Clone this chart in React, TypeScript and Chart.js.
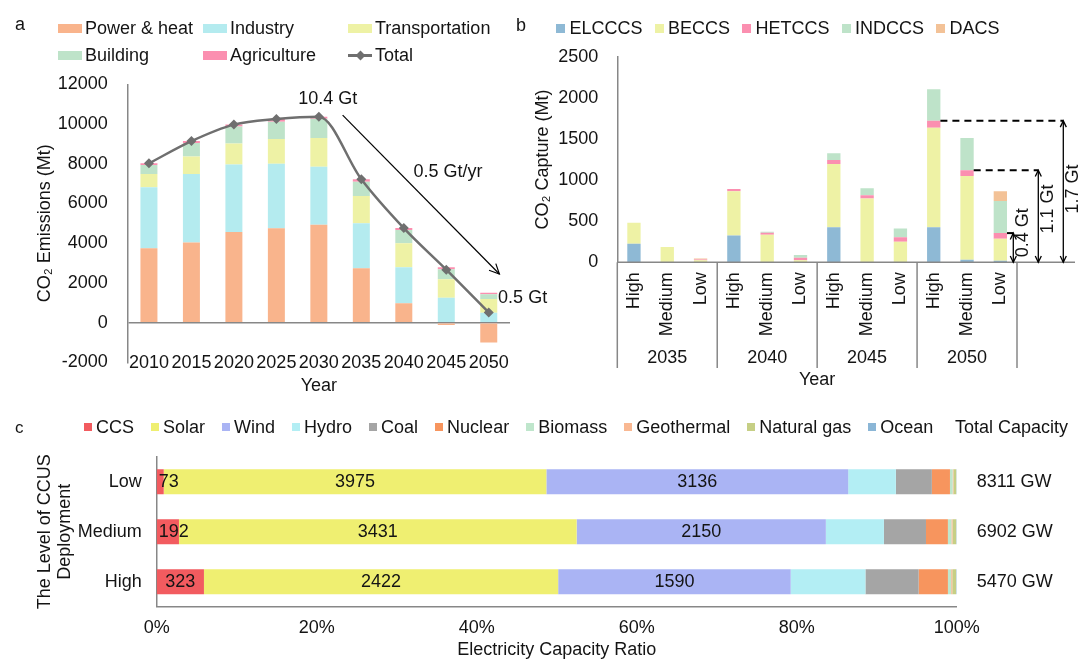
import React, { useEffect, useRef } from 'react';
import { Chart, registerables } from 'chart.js';

Chart.register(...registerables);

const FONT = '"Liberation Sans", Arial, Helvetica, sans-serif';
const TXT = '#141414';
const AXIS = '#878787';

Chart.defaults.font.family = FONT;
Chart.defaults.color = TXT;

// ---------------- Panel a: CO2 emissions (Mt) ----------------
const emissionYears = ['2010', '2015', '2020', '2025', '2030', '2035', '2040', '2045', '2050'];
const powerHeat = [3750, 4030, 4570, 4750, 4930, 2740, 980, -120, -1000];
const industry = [3070, 3460, 3390, 3250, 2920, 2260, 1810, 1260, 500];
const transportation = [670, 870, 1060, 1250, 1450, 1380, 1210, 930, 690];
const building = [450, 680, 850, 870, 970, 720, 670, 500, 240];
const agriculture = [80, 100, 100, 130, 100, 120, 90, 100, 80];
const totalEmissions = [8020, 9140, 9970, 10250, 10370, 7220, 4760, 2670, 510];
const emissionTicks = [-2000, 0, 2000, 4000, 6000, 8000, 10000, 12000];

// ---------------- Panel b: CO2 capture (Mt) ----------------
const captureYears = ['2035', '2040', '2045', '2050'];
const captureLevels = ['High', 'Medium', 'Low'];
const elcccs = [225, 0, 0, 325, 0, 0, 425, 0, 0, 425, 30, 20];
const beccs = [255, 185, 25, 540, 335, 25, 770, 775, 250, 1210, 1020, 265];
const hetccs = [0, 0, 8, 25, 25, 30, 50, 40, 55, 85, 70, 70];
const indccs = [0, 0, 0, 0, 10, 35, 80, 85, 105, 385, 390, 390];
const dacs = [0, 0, 12, 0, 0, 0, 0, 0, 0, 0, 0, 120];
const captureTicks = [0, 500, 1000, 1500, 2000, 2500];
const gapLabels = ['1.7 Gt', '1.1 Gt', '0.4 Gt'];
const gapBars = [9, 10, 11];
const gapLabelValues = [890, 648, 360];

// ---------------- Panel c: electricity capacity (GW) ----------------
const deploymentLevels = ['Low', 'Medium', 'High'];
const sourceNames = ['CCS', 'Solar', 'Wind', 'Hydro', 'Coal', 'Nuclear', 'Biomass', 'Geothermal', 'Natural gas', 'Ocean'];
const ccsGW = [73, 192, 323];
const solarGW = [3975, 3431, 2422];
const windGW = [3136, 2150, 1590];
const hydroGW = [495, 501, 511];
const coalGW = [374, 363, 364];
const nuclearGW = [188, 189, 200];
const biomassGW = [28, 30, 22];
const geothermalGW = [8, 10, 8];
const naturalGasGW = [30, 32, 26];
const oceanGW = [4, 4, 4];
const totalCapacity = [8311, 6902, 5470];
const ratioTicks = [0, 20, 40, 60, 80, 100];

// ---------------- colours ----------------
const C_POWER = '#F9B48C';
const C_IND = '#B4EBEF';
const C_TRANS = '#EEF2A5';
const C_BUILD = '#BEE3C9';
const C_AGRI = '#FB8FB0';
const C_TOTAL = '#6F6F6F';
const C_ELC = '#8EB9D5';
const C_DACS = '#F3C297';
const sourceColors = ['#F25B5F', '#EFEF71', '#AAB4F4', '#B3EEF4', '#A5A5A5', '#F7955E', '#BFE6CC', '#F9B892', '#C6CF85', '#8BB6D6'];

const f18 = { family: FONT, size: 18 };

function line(ctx: CanvasRenderingContext2D, x1: number, y1: number, x2: number, y2: number) {
  ctx.beginPath();
  ctx.moveTo(x1, y1);
  ctx.lineTo(x2, y2);
  ctx.stroke();
}

function head(ctx: CanvasRenderingContext2D, x: number, y: number, angle: number, size: number) {
  ctx.beginPath();
  ctx.moveTo(x - size * Math.cos(angle - Math.PI / 7), y - size * Math.sin(angle - Math.PI / 7));
  ctx.lineTo(x, y);
  ctx.lineTo(x - size * Math.cos(angle + Math.PI / 7), y - size * Math.sin(angle + Math.PI / 7));
  ctx.stroke();
}

const annotA = {
  id: 'annotA',
  afterDraw(chart: any) {
    const { ctx, chartArea } = chart;
    const x = chart.scales.x;
    const y = chart.scales.y;
    ctx.save();
    ctx.font = `18px ${FONT}`;
    ctx.fillStyle = TXT;
    ctx.textAlign = 'center';
    ctx.textBaseline = 'middle';
    // category labels sit on the bottom edge of the plot, as in the original
    emissionYears.forEach((yr, i) => ctx.fillText(yr, x.getPixelForValue(i), chartArea.bottom + 1));
    ctx.fillText('10.4 Gt', x.getPixelForValue(4.21), y.getPixelForValue(11240));
    ctx.fillText('0.5 Gt/yr', x.getPixelForValue(7.04), y.getPixelForValue(7600));
    ctx.textAlign = 'left';
    ctx.fillText('0.5 Gt', x.getPixelForValue(8.22), y.getPixelForValue(1240));
    const x1 = x.getPixelForValue(4.56), y1 = y.getPixelForValue(10450);
    const x2 = x.getPixelForValue(8.25), y2 = y.getPixelForValue(2450);
    ctx.strokeStyle = '#000';
    ctx.lineWidth = 1.2;
    line(ctx, x1, y1, x2, y2);
    head(ctx, x2, y2, Math.atan2(y2 - y1, x2 - x1), 11);
    ctx.restore();
  },
};

const decorB = {
  id: 'decorB',
  afterDraw(chart: any) {
    const { ctx, chartArea } = chart;
    const { left, right, bottom } = chartArea;
    const x = chart.scales.x;
    const y = chart.scales.y;
    const low = 368;
    const n = captureLevels.length;
    ctx.save();
    ctx.strokeStyle = AXIS;
    ctx.lineWidth = 1.5;
    line(ctx, left, bottom, left, low);
    line(ctx, left, bottom, right + 58, bottom);
    ctx.font = `18px ${FONT}`;
    ctx.fillStyle = TXT;
    ctx.textAlign = 'center';
    ctx.textBaseline = 'middle';
    captureYears.forEach((yr, g) => {
      const xb = (x.getPixelForValue((g + 1) * n - 1) + x.getPixelForValue((g + 1) * n)) / 2;
      line(ctx, xb, bottom, xb, low);
      ctx.fillText(yr, x.getPixelForValue(g * n + 1), 358);
    });
    // gap annotations
    const meta = chart.getDatasetMeta(2);
    const offsets = [46.3, 21.3, -3.7];
    gapBars.forEach((idx, k) => {
      const level = elcccs[idx] + beccs[idx] + hetccs[idx];
      const yl = y.getPixelForValue(level);
      const bar = meta.data[idx];
      const barRight = bar.x + bar.width / 2;
      const xa = right + offsets[k];
      ctx.strokeStyle = '#000';
      ctx.lineWidth = 2;
      if (k < 2) ctx.setLineDash([7, 5]);
      line(ctx, barRight, yl, xa, yl);
      ctx.setLineDash([]);
      ctx.lineWidth = 1.3;
      line(ctx, xa, yl, xa, bottom);
      head(ctx, xa, yl, -Math.PI / 2, 7);
      head(ctx, xa, bottom, Math.PI / 2, 7);
      ctx.save();
      ctx.translate(xa + 10, y.getPixelForValue(gapLabelValues[k]));
      ctx.rotate(-Math.PI / 2);
      ctx.fillStyle = TXT;
      ctx.fillText(gapLabels[k], 0, 0);
      ctx.restore();
    });
    ctx.restore();
  },
};

const gwSeries = [ccsGW, solarGW, windGW, hydroGW, coalGW, nuclearGW, biomassGW, geothermalGW, naturalGasGW, oceanGW];

const labelsC = {
  id: 'labelsC',
  afterDatasetsDraw(chart: any) {
    const { ctx, chartArea } = chart;
    ctx.save();
    ctx.font = `18px ${FONT}`;
    ctx.fillStyle = TXT;
    ctx.textBaseline = 'middle';
    ctx.textAlign = 'center';
    for (let ds = 0; ds < 3; ds++) {
      const meta = chart.getDatasetMeta(ds);
      meta.data.forEach((bar: any, i: number) => {
        const text = String(gwSeries[ds][i]);
        const w = ctx.measureText(text).width;
        let cx = (bar.x + bar.base) / 2;
        if (ds === 0) cx = Math.max(cx, bar.base + 2 + w / 2);
        ctx.fillText(text, cx, bar.y);
      });
    }
    ctx.textAlign = 'left';
    chart.getDatasetMeta(0).data.forEach((bar: any, i: number) => {
      ctx.fillText(`${totalCapacity[i]} GW`, chartArea.right + 20, bar.y);
    });
    ctx.restore();
  },
};

function configA(): any {
  const bar = (label: string, data: number[], color: string) => ({
    type: 'bar', label, data, backgroundColor: color, borderWidth: 0, order: 1,
    barPercentage: 0.4, categoryPercentage: 1,
  });
  return {
    type: 'bar',
    data: {
      labels: emissionYears,
      datasets: [
        {
          type: 'line', label: 'Total', data: totalEmissions, borderColor: C_TOTAL, backgroundColor: C_TOTAL,
          borderWidth: 2.5, pointStyle: 'rectRot', pointRadius: 5, pointBorderWidth: 0,
          cubicInterpolationMode: 'monotone', order: 0,
        },
        bar('Power & heat', powerHeat, C_POWER),
        bar('Industry', industry, C_IND),
        bar('Transportation', transportation, C_TRANS),
        bar('Building', building, C_BUILD),
        bar('Agriculture', agriculture, C_AGRI),
      ],
    },
    options: {
      animation: false,
      responsive: false,
      maintainAspectRatio: false,
      layout: { autoPadding: false, padding: { top: 84.3, right: 50, left: 0, bottom: 0 } },
      plugins: { legend: { display: false }, tooltip: { enabled: false } },
      scales: {
        x: {
          stacked: true,
          grid: { display: false, drawTicks: false },
          border: { display: false },
          ticks: { display: false },
          title: { display: true, text: 'Year', font: f18, color: TXT, padding: { top: 0, bottom: 3 } },
          afterFit: (s: any) => { s.height = 37.6; },
        },
        y: {
          stacked: true,
          min: emissionTicks[0],
          max: emissionTicks[emissionTicks.length - 1],
          ticks: { stepSize: 2000, font: f18, color: TXT, padding: 20, callback: (v: any) => String(v) },
          grid: { drawTicks: false, lineWidth: 1.5, color: (c: any) => (c.tick && c.tick.value === 0 ? AXIS : 'rgba(0,0,0,0)') },
          border: { display: true, color: AXIS, width: 1.5 },
          title: { display: true, text: 'CO₂ Emissions (Mt)', font: f18, color: TXT, padding: { top: 34 } },
          afterFit: (s: any) => { s.width = 127.7; },
        },
      },
    },
    plugins: [annotA],
  };
}

function configB(): any {
  const labels = captureYears.flatMap(() => captureLevels);
  const ds = (label: string, data: number[], color: string) => ({
    label, data, backgroundColor: color, borderWidth: 0, barPercentage: 0.4, categoryPercentage: 1,
  });
  return {
    type: 'bar',
    data: {
      labels,
      datasets: [
        ds('ELCCCS', elcccs, C_ELC),
        ds('BECCS', beccs, C_TRANS),
        ds('HETCCS', hetccs, C_AGRI),
        ds('INDCCS', indccs, C_BUILD),
        ds('DACS', dacs, C_DACS),
      ],
    },
    options: {
      animation: false,
      responsive: false,
      maintainAspectRatio: false,
      layout: { autoPadding: false, padding: { top: 56.7, right: 64, left: 0, bottom: 0 } },
      plugins: { legend: { display: false }, tooltip: { enabled: false } },
      scales: {
        x: {
          stacked: true,
          grid: { display: false, drawTicks: false },
          border: { display: false },
          ticks: { font: f18, color: TXT, padding: 10, minRotation: 90, maxRotation: 90, autoSkip: false },
          title: { display: true, text: 'Year', font: f18, color: TXT, padding: { top: 0, bottom: 9.2 } },
          afterFit: (s: any) => { s.height = 137.7; },
        },
        y: {
          stacked: true,
          min: captureTicks[0],
          max: captureTicks[captureTicks.length - 1],
          ticks: { stepSize: 500, font: f18, color: TXT, padding: 19, callback: (v: any) => String(v) },
          grid: { display: false, drawTicks: false },
          border: { display: true, color: AXIS, width: 1.5 },
          title: { display: true, text: 'CO₂ Capture (Mt)', font: f18, color: TXT, padding: { top: 32.5 } },
          afterFit: (s: any) => { s.width = 117.3; },
        },
      },
    },
    plugins: [decorB],
  };
}

function configC(): any {
  const datasets = gwSeries.map((series, k) => ({
    label: sourceNames[k],
    data: series.map((v, i) => (v / totalCapacity[i]) * 100),
    backgroundColor: sourceColors[k],
    borderWidth: 0,
    barPercentage: 0.5,
    categoryPercentage: 1,
  }));
  return {
    type: 'bar',
    data: { labels: deploymentLevels, datasets },
    options: {
      indexAxis: 'y',
      animation: false,
      responsive: false,
      maintainAspectRatio: false,
      layout: { autoPadding: false, padding: { top: 56.7, right: 124.3, left: 0, bottom: 0 } },
      plugins: { legend: { display: false }, tooltip: { enabled: false } },
      scales: {
        x: {
          stacked: true,
          min: ratioTicks[0],
          max: ratioTicks[ratioTicks.length - 1],
          grid: { display: false, drawTicks: false },
          border: { display: true, color: AXIS, width: 1.5 },
          ticks: { stepSize: 20, font: f18, color: TXT, padding: 10.8, callback: (v: any) => `${v}%` },
          title: { display: true, text: 'Electricity Capacity Ratio', font: { ...f18, lineHeight: 1 }, color: TXT, padding: { top: 0, bottom: 1 } },
          afterFit: (s: any) => { s.height = 53.3; },
        },
        y: {
          stacked: true,
          grid: { display: false, drawTicks: false },
          border: { display: true, color: AXIS, width: 1.5 },
          ticks: { font: f18, color: TXT, padding: 15 },
          title: { display: true, text: ['The Level of CCUS', 'Deployment'], font: { ...f18, lineHeight: 1.1 }, color: TXT, padding: { top: 35 } },
          afterFit: (s: any) => { s.width = 156.7; },
        },
      },
    },
    plugins: [labelsC],
  };
}

const txt: React.CSSProperties = { fontSize: 18, lineHeight: '22px', whiteSpace: 'nowrap', color: TXT };

function LegendA() {
  const items = [
    { label: 'Power & heat', color: C_POWER, x: 58, y: 28 },
    { label: 'Industry', color: C_IND, x: 203, y: 28 },
    { label: 'Transportation', color: C_TRANS, x: 348, y: 28 },
    { label: 'Building', color: C_BUILD, x: 58, y: 55 },
    { label: 'Agriculture', color: C_AGRI, x: 203, y: 55 },
  ];
  return (
    <>
      {items.map((it) => (
        <div key={it.label} style={{ position: 'absolute', left: it.x, top: it.y - 11, height: 22, display: 'flex', alignItems: 'center' }}>
          <div style={{ width: 24, height: 9, background: it.color, marginRight: 3 }} />
          <span style={txt}>{it.label}</span>
        </div>
      ))}
      <div style={{ position: 'absolute', left: 348, top: 55 - 11, height: 22, display: 'flex', alignItems: 'center' }}>
        <div style={{ width: 24, height: 9, marginRight: 3, position: 'relative' }}>
          <div style={{ position: 'absolute', left: 0, top: 3.5, width: 24, height: 2.5, background: C_TOTAL }} />
          <div style={{ position: 'absolute', left: 8.5, top: 1, width: 7, height: 7, background: C_TOTAL, transform: 'rotate(45deg)' }} />
        </div>
        <span style={txt}>Total</span>
      </div>
    </>
  );
}

function LegendB() {
  const items = [
    { label: 'ELCCCS', color: C_ELC },
    { label: 'BECCS', color: C_TRANS },
    { label: 'HETCCS', color: C_AGRI },
    { label: 'INDCCS', color: C_BUILD },
    { label: 'DACS', color: C_DACS },
  ];
  return (
    <div style={{ position: 'absolute', left: 556, top: 28 - 11, height: 22, display: 'flex', alignItems: 'center', gap: 12 }}>
      {items.map((it) => (
        <div key={it.label} style={{ display: 'flex', alignItems: 'center' }}>
          <div style={{ width: 9, height: 9, background: it.color, marginRight: 4.5 }} />
          <span style={txt}>{it.label}</span>
        </div>
      ))}
    </div>
  );
}

function LegendC() {
  return (
    <>
      <div style={{ position: 'absolute', left: 84, top: 427 - 11, height: 22, display: 'flex', alignItems: 'center', gap: 17 }}>
        {sourceNames.map((name, k) => (
          <div key={name} style={{ display: 'flex', alignItems: 'center' }}>
            <div style={{ width: 8, height: 8, background: sourceColors[k], marginRight: 4 }} />
            <span style={txt}>{name}</span>
          </div>
        ))}
      </div>
      <div style={{ position: 'absolute', left: 955, top: 427 - 11, ...txt }}>Total Capacity</div>
    </>
  );
}

export default function App() {
  const aRef = useRef<HTMLCanvasElement>(null);
  const bRef = useRef<HTMLCanvasElement>(null);
  const cRef = useRef<HTMLCanvasElement>(null);

  useEffect(() => {
    const charts = [
      new Chart(aRef.current as HTMLCanvasElement, configA()),
      new Chart(bRef.current as HTMLCanvasElement, configB()),
      new Chart(cRef.current as HTMLCanvasElement, configC()),
    ];
    return () => charts.forEach((c) => c.destroy());
  }, []);

  return (
    <div style={{ position: 'absolute', left: 0, top: 0, width: 1081, height: 660, background: '#fff', overflow: 'hidden', fontFamily: FONT, color: TXT }}>
      <canvas ref={aRef} width={560} height={400} style={{ position: 'absolute', left: 0, top: 0, width: 560, height: 400 }} />
      <canvas ref={bRef} width={581} height={400} style={{ position: 'absolute', left: 500, top: 0, width: 581, height: 400 }} />
      <canvas ref={cRef} width={1081} height={260} style={{ position: 'absolute', left: 0, top: 400, width: 1081, height: 260 }} />
      <div style={{ position: 'absolute', left: 15, top: 13, ...txt }}>a</div>
      <div style={{ position: 'absolute', left: 516, top: 14, ...txt }}>b</div>
      <div style={{ position: 'absolute', left: 15, top: 417, ...txt, fontSize: 17 }}>c</div>
      <LegendA />
      <LegendB />
      <LegendC />
    </div>
  );
}
